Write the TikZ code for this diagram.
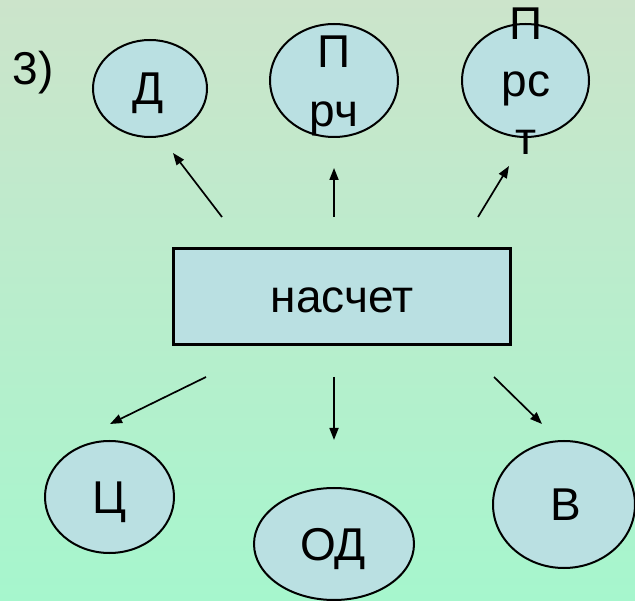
\documentclass[tikz,border=0pt]{standalone}
\usepackage{fontspec}
\setmainfont{Liberation Sans}
\usetikzlibrary{arrows.meta,shapes.geometric}
\definecolor{bgtop}{RGB}{204,228,203}
\definecolor{bgbot}{RGB}{166,246,205}
\definecolor{fillb}{RGB}{186,224,226}
\begin{document}
\begin{tikzpicture}[x=1pt,y=-1pt,
  oval/.style={ellipse,draw=black,line width=2pt,fill=fillb,inner sep=0pt},
  boxnode/.style={rectangle,draw=black,line width=3pt,fill=fillb,inner sep=0pt},
  txt/.style={font=\fontsize{46}{55}\selectfont,anchor=base,inner sep=0pt},
  arr/.style={-{Triangle[length=12pt,width=9pt]},line width=1.7pt}]
\fill[top color=bgtop,bottom color=bgbot] (0,0) rectangle (635,601);
\useasboundingbox (0,0) rectangle (635,601);
% top ovals
\node[oval,minimum width=114pt,minimum height=97pt] (d) at (150,88.5) {};
\node[oval,minimum width=128pt,minimum height=113pt] (prch) at (334,80.5) {};
\node[oval,minimum width=127pt,minimum height=113pt] (prst) at (525.5,80.5) {};
% box
\node[boxnode,minimum width=337pt,minimum height=96pt] (box) at (341.5,297) {};
% bottom ovals
\node[oval,minimum width=129pt,minimum height=112pt] (c) at (109.5,497) {};
\node[oval,minimum width=160pt,minimum height=112pt] (od) at (334,544) {};
\node[oval,minimum width=142pt,minimum height=127pt] (v) at (564,504.5) {};
% texts
\node[txt] (num) at (33,85) {3)};
\node[txt] (dt) at (148,105) {Д};
\node[txt] (p1) at (334,68) {П};
\node[txt] (p2) at (334,127) {рч};
\node[txt] (s1) at (526,40) {П};
\node[txt] (s2) at (526,97) {рс};
\node[txt] (s3) at (526,155) {т};
\node[txt] (bt) at (342,313) {насчет};
\node[txt] (ct) at (110,513.5) {Ц};
\node[txt] (odt) at (333,560.5) {ОД};
\node[txt] (vt) at (566,521) {В};
% arrow end points
\coordinate (a1s) at (222,217); \coordinate (a1e) at (173,153);
\coordinate (a2s) at (334,217); \coordinate (a2e) at (334,168);
\coordinate (a3s) at (478,217); \coordinate (a3e) at (509,166);
\coordinate (a4s) at (206,377); \coordinate (a4e) at (110,424);
\coordinate (a5s) at (334,377); \coordinate (a5e) at (334,440);
\coordinate (a6s) at (494,377); \coordinate (a6e) at (542,424);
\draw[arr] (a1s) -- (a1e);
\draw[arr] (a2s) -- (a2e);
\draw[arr] (a3s) -- (a3e);
\draw[arr] (a4s) -- (a4e);
\draw[arr] (a5s) -- (a5e);
\draw[arr] (a6s) -- (a6e);
\end{tikzpicture}
\end{document}
